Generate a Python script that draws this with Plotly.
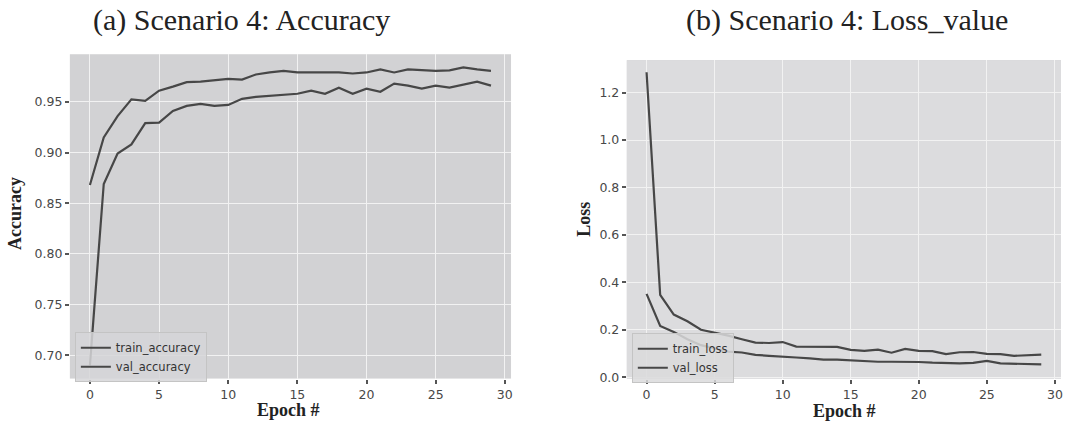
import plotly.graph_objects as go

epochs = list(range(30))

train_accuracy = [0.690, 0.869, 0.899, 0.908, 0.929, 0.9295, 0.941, 0.946, 0.948, 0.946,
                  0.947, 0.953, 0.955, 0.956, 0.957, 0.958, 0.961, 0.958, 0.964, 0.958,
                  0.963, 0.960, 0.968, 0.966, 0.963, 0.966, 0.964, 0.967, 0.970, 0.966]
val_accuracy = [0.868, 0.915, 0.936, 0.9525, 0.951, 0.961, 0.965, 0.9695, 0.970, 0.971,
                0.9727, 0.972, 0.977, 0.979, 0.9805, 0.979, 0.979, 0.9785, 0.979, 0.978,
                0.979, 0.982, 0.979, 0.982, 0.981, 0.9805, 0.981, 0.984, 0.982, 0.9805]

train_loss = [1.286, 0.347, 0.264, 0.236, 0.200, 0.188, 0.175, 0.160, 0.146, 0.144,
              0.148, 0.129, 0.128, 0.127, 0.128, 0.115, 0.111, 0.116, 0.103, 0.119,
              0.111, 0.110, 0.097, 0.105, 0.106, 0.098, 0.097, 0.090, 0.092, 0.095]
val_loss = [0.351, 0.216, 0.191, 0.160, 0.135, 0.120, 0.108, 0.104, 0.094, 0.090,
            0.085, 0.083, 0.079, 0.074, 0.074, 0.071, 0.067, 0.065, 0.065, 0.065,
            0.064, 0.061, 0.058, 0.058, 0.060, 0.069, 0.058, 0.056, 0.056, 0.054]

acc_ticks = [0.70, 0.75, 0.80, 0.85, 0.90, 0.95]
loss_ticks = [0.0, 0.2, 0.4, 0.6, 0.8, 1.0, 1.2]
epoch_ticks = [0, 5, 10, 15, 20, 25, 30]

W, H = 1067, 425
LINE = dict(color="#474747", width=2.2)
TICKFONT = dict(family="DejaVu Sans", size=12.5, color="#484848")
SERIF = "Liberation Serif"


def px_x(p):
    return p / W


def px_y(p):
    return (H - p) / H


fig = go.Figure()

series = [
    ("train_accuracy", train_accuracy, "x", "y", "legend"),
    ("val_accuracy", val_accuracy, "x", "y", "legend"),
    ("train_loss", train_loss, "x2", "y2", "legend2"),
    ("val_loss", val_loss, "x2", "y2", "legend2"),
]
for name, values, xa, ya, lg in series:
    fig.add_trace(go.Scatter(x=epochs, y=values, mode="lines", name=name, line=LINE,
                             xaxis=xa, yaxis=ya, legend=lg, legendgroup=name))

common_axis = dict(showgrid=True, gridcolor="#f2f2f2", gridwidth=1, zeroline=False,
                   showline=False, ticks="outside", ticklen=4, tickwidth=1.5,
                   tickcolor="#555555", tickfont=TICKFONT)

legend_style = dict(xanchor="left", yanchor="top", bordercolor="#c4c4c4", borderwidth=1,
                    font=dict(family="DejaVu Sans", size=11.5, color="#333333"),
                    itemwidth=30, tracegroupgap=0)

fig.update_layout(
    width=W, height=H,
    margin=dict(l=0, r=0, t=0, b=0),
    paper_bgcolor="#ffffff",
    plot_bgcolor="#d2d2d4",
    xaxis=dict(domain=[px_x(70), px_x(512)], range=[-1.45, 30.45],
               tickvals=epoch_ticks, anchor="y", **common_axis),
    yaxis=dict(domain=[px_y(384), px_y(55)], range=[0.677, 0.997],
               tickvals=acc_ticks, tickformat=".2f", anchor="x", **common_axis),
    xaxis2=dict(domain=[px_x(628), px_x(1063)], range=[-1.45, 30.45],
                tickvals=epoch_ticks, anchor="y2", **common_axis),
    yaxis2=dict(domain=[px_y(384), px_y(61)], range=[-0.006, 1.337],
                tickvals=loss_ticks, tickformat=".1f", anchor="x2", **common_axis),
    legend=dict(x=px_x(75), y=px_y(337), bgcolor="rgba(214,214,216,0.85)", **legend_style),
    legend2=dict(x=px_x(633), y=px_y(338), bgcolor="rgba(218,218,220,0.85)", **legend_style),
    showlegend=True,
)

# Right panel has a slightly lighter background
fig.add_shape(type="rect", xref="x2 domain", yref="y2 domain", x0=0, x1=1, y0=0, y1=1,
              fillcolor="#dcdcde", line_width=0, layer="below")

annotations = [
    dict(text="(a) Scenario 4: Accuracy", x=px_x(242), y=px_y(20),
         font=dict(family=SERIF, size=30, color="#222222")),
    dict(text="(b) Scenario 4: Loss_value", x=px_x(849), y=px_y(20),
         font=dict(family=SERIF, size=30, color="#222222")),
    dict(text="<b>Epoch #</b>", x=px_x(289), y=px_y(416),
         font=dict(family=SERIF, size=18, color="#222222")),
    dict(text="<b>Epoch #</b>", x=px_x(846), y=px_y(417),
         font=dict(family=SERIF, size=18, color="#222222")),
    dict(text="<b>Accuracy</b>", x=px_x(15), y=px_y(216), textangle=-90,
         font=dict(family=SERIF, size=18, color="#222222")),
    dict(text="<b>Loss</b>", x=px_x(585), y=px_y(222), textangle=-90,
         font=dict(family=SERIF, size=18, color="#222222")),
]
for a in annotations:
    a.update(xref="paper", yref="paper", showarrow=False, xanchor="center", yanchor="middle")
    fig.add_annotation(**a)

fig.write_html("out.html")
